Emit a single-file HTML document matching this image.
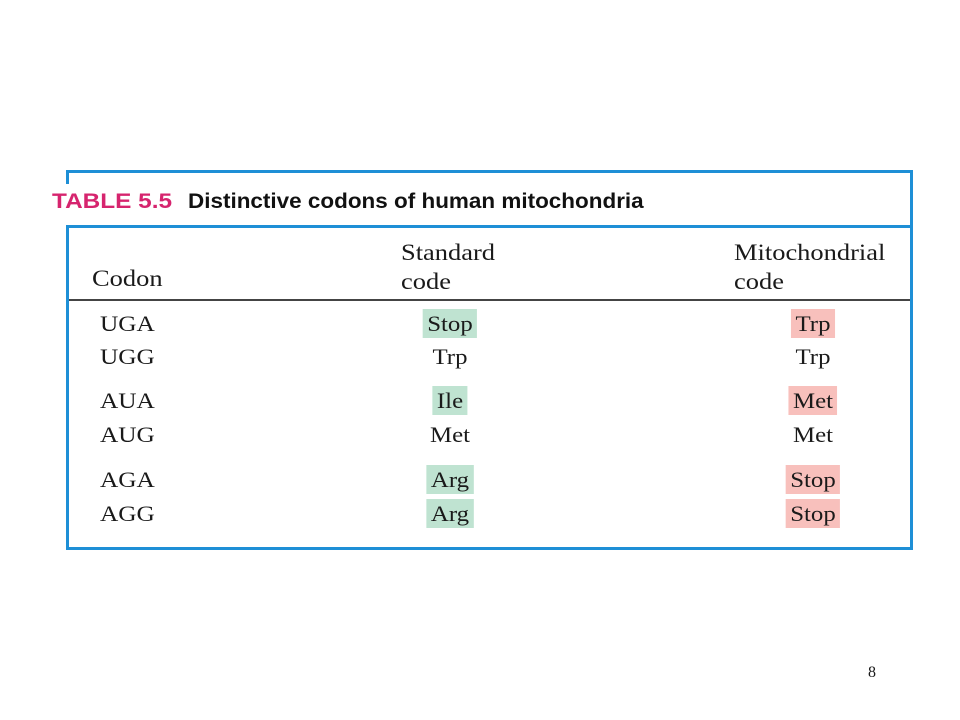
<!DOCTYPE html>
<html><head><meta charset="utf-8"><style>
body{margin:0;width:960px;height:720px;background:#fff;position:relative;overflow:hidden;font-family:"Liberation Serif",serif;color:#1a1a1a}
.a{position:absolute}
.ln{position:absolute;background:#1e8fd6}
.t{position:absolute;font-size:22px;line-height:22px;white-space:nowrap;transform-origin:0 0;transform:scaleX(1.15)}
.c{transform-origin:50% 0;transform:translateX(-50%) scaleX(1.13);text-align:center}
.g{background:#bfe3d1;padding:4px 4px 3px}
.p{background:#f8c0bc;padding:4px 4px 3px}
</style></head><body>
<div class="ln" style="left:66px;top:170px;width:847px;height:3px"></div>
<div class="ln" style="left:66px;top:170px;width:3px;height:14px"></div>
<div class="ln" style="left:910px;top:170px;width:3px;height:380px"></div>
<div class="ln" style="left:66px;top:225px;width:847px;height:3px"></div>
<div class="ln" style="left:66px;top:225px;width:3px;height:325px"></div>
<div class="ln" style="left:66px;top:547px;width:847px;height:3px"></div>
<div class="a" style="left:69px;top:299px;width:841px;height:2px;background:#444"></div>
<div class="a" style="left:52px;top:190px;font:bold 21px 'Liberation Sans',sans-serif;color:#d6246e;transform-origin:0 0;transform:scaleX(1.16);white-space:nowrap">TABLE 5.5</div>
<div class="a" style="left:188px;top:190px;font:bold 21px 'Liberation Sans',sans-serif;color:#111;transform-origin:0 0;transform:scaleX(1.07);white-space:nowrap">Distinctive codons of human mitochondria</div>
<div class="t" style="left:92px;top:268px;font-size:23px">Codon</div>
<div class="t" style="left:401px;top:238px;font-size:23px;line-height:29px">Standard<br>code</div>
<div class="t" style="left:734px;top:238px;font-size:23px;line-height:29px">Mitochondrial<br>code</div>
<div id="rows"></div>
<div class="a" style="left:868px;top:664px;font-size:16px">8</div>
<script>
const codons=["UGA","UGG","AUA","AUG","AGA","AGG"];
const standard=["Stop","Trp","Ile","Met","Arg","Arg"];
const mito=["Trp","Trp","Met","Met","Stop","Stop"];
const stdHL=[1,0,1,0,1,1];
const mitoHL=[1,0,1,0,1,1];
const rowY=[313,346,390,424,469,503];
const r=document.getElementById('rows');
function mk(txt,left,top,cls,name){const d=document.createElement('div');d.className='t '+cls;d.style.left=left+'px';d.style.top=top+'px';d.textContent=txt;


r.appendChild(d);}
codons.forEach((c,i)=>{
mk(c,100,rowY[i],'','codon-'+c.toLowerCase());
mk(standard[i],450,rowY[i]-(stdHL[i]?4:0),'c'+(stdHL[i]?' g':''),'standard-'+c.toLowerCase());
mk(mito[i],813,rowY[i]-(mitoHL[i]?4:0),'c'+(mitoHL[i]?' p':''),'mito-'+c.toLowerCase());
});
</script>
</body></html>
